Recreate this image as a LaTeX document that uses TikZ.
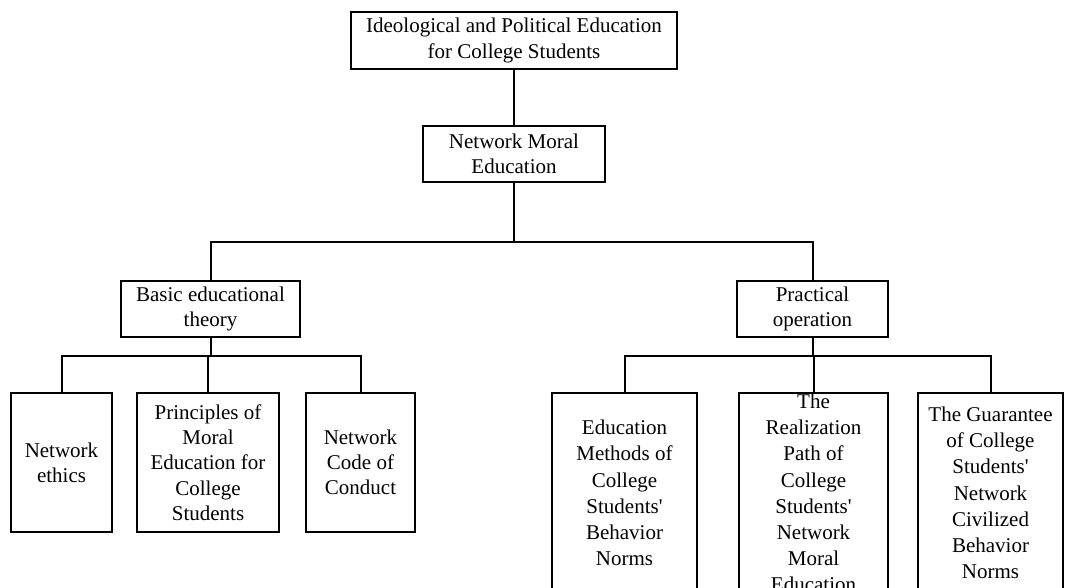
\documentclass[tikz,border=0pt]{standalone}
\usepackage{fontspec}
\setmainfont{Liberation Serif}[Ligatures=TeXOff]
\begin{document}
\begin{tikzpicture}[x=1pt,y=-1pt,
  box/.style={draw,line width=2pt,align=center,inner sep=1pt,
    font=\fontsize{21}{25.3}\selectfont},
  tall/.style={font=\fontsize{21}{26.2}\selectfont},
  conn/.style={line width=2pt}]
\useasboundingbox (0,0) rectangle (1069,588);
\clip (0,0) rectangle (1069,588);
\node[box,minimum width=326pt,minimum height=57pt] (top) at (514,40.5)
  {Ideological and Political Education\\for College Students};
\node[box,minimum width=182pt,minimum height=56pt] (nme) at (514,154)
  {Network Moral\\Education};
\node[box,minimum width=179pt,minimum height=56pt] (basic) at (210.5,309)
  {Basic educational\\theory};
\node[box,minimum width=151pt,minimum height=56pt] (prac) at (812.5,309)
  {Practical\\operation};
\node[box,minimum width=101pt,minimum height=139pt] (ethics) at (61.5,462.5)
  {Network\\ethics};
\node[box,minimum width=142pt,minimum height=139pt] (princ) at (208,462.5)
  {Principles of\\Moral\\Education for\\College\\Students};
\node[box,minimum width=109pt,minimum height=139pt] (code) at (360.5,462.5)
  {Network\\Code of\\Conduct};
\node[box,tall,minimum width=145pt,minimum height=200pt] (edu) at (624.5,493)
  {Education\\Methods of\\College\\Students'\\Behavior\\Norms};
\node[box,tall,minimum width=149pt,minimum height=200pt] (real) at (813.5,493)
  {The\\Realization\\Path of\\College\\Students'\\Network\\Moral\\Education};
\node[box,tall,minimum width=145pt,minimum height=200pt] (guar) at (990.5,493)
  {The Guarantee\\of College\\Students'\\Network\\Civilized\\Behavior\\Norms};
\coordinate (j1) at (514,242);
\coordinate (j2) at (514,356);
\draw[conn] (top.south) -- (nme.north);
\draw[conn] (nme.south) -- (j1);
\draw[conn] (basic.north) -- (basic.north |- j1) -- (prac.north |- j1) -- (prac.north);
\draw[conn] (basic.south) -- (basic.south |- j2);
\draw[conn] (ethics.north) -- (ethics.north |- j2) -- (code.north |- j2) -- (code.north);
\draw[conn] (princ.north) -- (princ.north |- j2);
\draw[conn] (prac.south) -- (prac.south |- j2);
\draw[conn] (edu.north) -- (edu.north |- j2) -- (guar.north |- j2) -- (guar.north);
\draw[conn] (real.north) -- (real.north |- j2);
\end{tikzpicture}
\end{document}
